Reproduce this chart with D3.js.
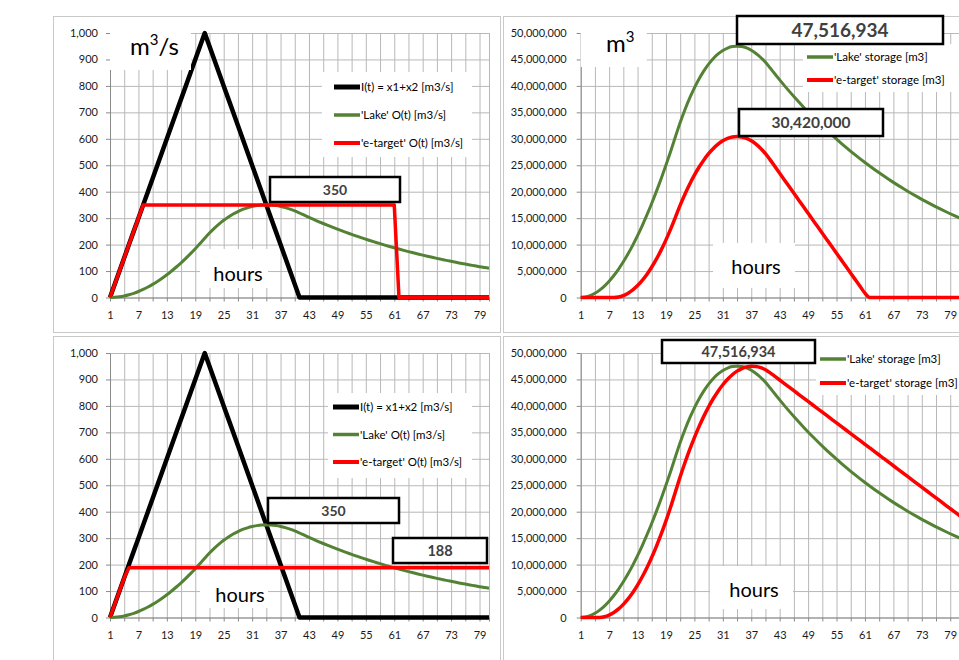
<!DOCTYPE html>
<html>
<head>
<meta charset="utf-8">
<title>Lake vs e-target</title>
<style>
  body { margin: 0; background: #fff; font-family: 'Lato', 'Liberation Sans', sans-serif; }
  svg { display: block; }
</style>
<script src="https://d3js.org/d3.v7.min.js"></script>
</head>
<body>
<svg width="959" height="660"></svg>
<script>
// categories (hours) and tick values
var hours = [1, 2, 3, 4, 5, 6, 7, 8, 9, 10, 11, 12, 13, 14, 15, 16, 17, 18, 19, 20,
  21, 22, 23, 24, 25, 26, 27, 28, 29, 30, 31, 32, 33, 34, 35, 36, 37, 38, 39, 40,
  41, 42, 43, 44, 45, 46, 47, 48, 49, 50, 51, 52, 53, 54, 55, 56, 57, 58, 59, 60,
  61, 62, 63, 64, 65, 66, 67, 68, 69, 70, 71, 72, 73, 74, 75, 76, 77, 78, 79, 80, 81];
var gridHours = [1, 4, 7, 10, 13, 16, 19, 22, 25, 28, 31, 34, 37, 40, 43, 46, 49, 52, 55, 58, 61, 64, 67, 70, 73, 76, 79, 81];
var hourLabels = [1, 7, 13, 19, 25, 31, 37, 43, 49, 55, 61, 67, 73, 79];
var flowTicks = [0, 100, 200, 300, 400, 500, 600, 700, 800, 900, 1000];
var storageTicks = [0, 5000000, 10000000, 15000000, 20000000, 25000000, 30000000, 35000000, 40000000, 45000000, 50000000];

// flows [m3/s]
var inflow = [0, 50, 100, 150, 200, 250, 300, 350, 400, 450, 500, 550, 600, 650, 700, 750, 800, 850, 900, 950,
  1000, 950, 900, 850, 800, 750, 700, 650, 600, 550, 500, 450, 400, 350, 300, 250, 200, 150, 100, 50,
  0, 0, 0, 0, 0, 0, 0, 0, 0, 0, 0, 0, 0, 0, 0, 0, 0, 0, 0, 0,
  0, 0, 0, 0, 0, 0, 0, 0, 0, 0, 0, 0, 0, 0, 0, 0, 0, 0, 0, 0, 0];
var lakeOutflow = [0, 0.7, 2.6, 5.8, 10.2, 15.9, 22.7, 30.6, 39.6, 49.7,
  60.8, 73.0, 86.1, 100.2, 115.3, 131.2, 148.1, 165.8, 184.4, 203.8,
  224.0, 243.6, 261.5, 277.5, 291.8, 304.5, 315.5, 324.9, 332.8, 339.1,
  344.0, 347.4, 349.4, 350.0, 349.4, 347.5, 344.3, 339.8, 334.2, 327.4,
  319.5, 311.1, 303.0, 295.1, 287.3, 279.8, 272.5, 265.4, 258.4, 251.6,
  245.1, 238.6, 232.4, 226.3, 220.4, 214.6, 209.0, 203.5, 198.2, 193.0,
  188.0, 183.1, 178.3, 173.6, 169.0, 164.6, 160.3, 156.1, 152.0, 148.0,
  144.2, 140.4, 136.7, 133.1, 129.7, 126.3, 123.0, 119.7, 116.6, 113.6, 110.6];
var targetOutflow350 = [0, 50, 100, 150, 200, 250, 300, 350,
  350, 350, 350, 350, 350, 350, 350, 350, 350, 350,
  350, 350, 350, 350, 350, 350, 350, 350, 350, 350,
  350, 350, 350, 350, 350, 350, 350, 350, 350, 350,
  350, 350, 350, 350, 350, 350, 350, 350, 350, 350,
  350, 350, 350, 350, 350, 350, 350, 350, 350, 350,
  350, 350, 350,
  0, 0, 0, 0, 0, 0, 0, 0, 0, 0, 0, 0, 0, 0, 0, 0, 0, 0, 0, 0];
var targetOutflow188 = [0, 50, 100, 150,
  188, 188, 188, 188, 188, 188, 188, 188, 188, 188, 188, 188, 188, 188, 188, 188, 188, 188, 188, 188,
  188, 188, 188, 188, 188, 188, 188, 188, 188, 188, 188, 188, 188, 188, 188, 188, 188, 188, 188, 188,
  188, 188, 188, 188, 188, 188, 188, 188, 188, 188, 188, 188, 188, 188, 188, 188, 188, 188, 188, 188,
  188, 188, 188, 188, 188, 188, 188, 188, 188, 188, 188, 188, 188, 188, 188, 188, 188];

// storages [m3]
var lakeStorage = [0, 89600, 354300, 790100, 1391600, 2154600, 3076400, 4151600, 5376200, 6746100,
  8257100, 9908000, 11691900, 13607500, 15650800, 17817500, 20106500, 22512200, 25033300, 27665800,
  30406700, 33074600, 35495200, 37675600, 39621100, 41338500, 42830500, 44109400, 45175100, 46035900,
  46697000, 47161300, 47436900, 47516934, 47438300, 47173500, 46737800, 46136300, 45372000, 44450100,
  43374900, 42239900, 41133500, 40056900, 39008800, 37986500, 36994100, 36024700, 35081200, 34163400,
  33268700, 32397100, 31550000, 30724500, 29919400, 29136100, 28373100, 27630500, 26906800, 26203600,
  25518000, 24852800, 24201100, 23567100, 22949400, 22349300, 21762800, 21195300, 20640000, 20098400,
  19571600, 19059800, 18560200, 18074100, 17601700, 17141500, 16692100, 16256300, 15830000, 15417200, 15012700];
var targetStorage350 = [0, 0, 0, 0, 0, 0, 0, 0,
  90000, 360000, 810000, 1440000, 2250000, 3240000, 4410000, 5760000, 7290000, 9000000, 10890000, 12960000, 15210000,
  17460000, 19530000, 21420000, 23130000, 24660000, 26010000, 27180000, 28170000, 28980000, 29610000,
  30060000, 30330000, 30420000, 30330000, 30060000, 29610000, 28980000, 28170000, 27180000, 26010000,
  24750000, 23490000, 22230000, 20970000, 19710000, 18450000, 17190000, 15930000, 14670000, 13410000,
  12150000, 10890000, 9630000, 8370000, 7110000, 5850000, 4590000, 3330000, 2070000, 810000,
  0, 0, 0, 0, 0, 0, 0, 0, 0, 0, 0, 0, 0, 0, 0, 0, 0, 0, 0, 0];
var targetStorage188 = [0, 0, 0, 0,
  5517, 140086, 454654, 949222, 1623790, 2478358, 3512926, 4727494, 6122062, 7696630, 9451198,
  11385766, 13500334, 15794902, 18269470, 20924038, 23758606,
  26593164, 29247732, 31722300, 34016868, 36131436, 38066004, 39820572, 41395140, 42789708, 44004276,
  45038844, 45893412, 46567980, 47062548, 47377116, 47511684, 47466252, 47240820, 46835388, 46249956,
  45574524, 44899092, 44223660, 43548228, 42872796, 42197364, 41521932, 40846500, 40171068, 39495636,
  38820204, 38144772, 37469340, 36793908, 36118476, 35443044, 34767612, 34092180, 33416748, 32741316,
  32065884, 31390452, 30715020, 30039588, 29364156, 28688724, 28013292, 27337860, 26662428, 25986996,
  25311564, 24636132, 23960700, 23285268, 22609836, 21934404, 21258972, 20583540, 19908108, 19232676];

var flowNames = ['I(t) = x1+x2 [m3/s]', "'Lake' O(t) [m3/s]", "'e-target' O(t) [m3/s]"];
var storageNames = ["'Lake' storage [m3]", "'e-target' storage [m3]"];

var GREEN = '#548235', RED = '#ff0000', BLACK = '#000000';
var svg = d3.select('svg');
var fmt = d3.format(',');
var plotW = 379, plotH = 264.5;

function drawPanel(p) {
	var x = d3.scaleLinear().domain([1, 81]).range([p.left, p.left + plotW]);
	var y = d3.scaleLinear().domain([0, p.yMax]).range([p.top + plotH, p.top]);
	var g = svg.append('g');

	g.append('rect')
		.attr('x', p.frame[0] + 0.5).attr('y', p.frame[1] + 0.5)
		.attr('width', p.frame[2]).attr('height', p.frame[3])
		.attr('fill', '#fff').attr('stroke', '#c9c9c9');

	// gridlines
	var vg = g.append('g').attr('transform', 'translate(0,' + (p.top + plotH) + ')')
		.call(d3.axisBottom(x).tickValues(gridHours).tickSize(-plotH).tickFormat(''));
	vg.select('.domain').remove();
	vg.selectAll('line').attr('stroke', '#b8b8b8');
	var hg = g.append('g').attr('transform', 'translate(' + p.left + ',0)')
		.call(d3.axisLeft(y).tickValues(p.yTicks).tickSize(-plotW).tickFormat(''));
	hg.select('.domain').remove();
	hg.selectAll('line').attr('stroke', '#b8b8b8');

	// axes
	var xa = g.append('g').attr('transform', 'translate(0,' + (p.top + plotH) + ')')
		.call(d3.axisBottom(x).tickValues(gridHours).tickSize(4).tickSizeOuter(0).tickPadding(10)
			.tickFormat((d) => hourLabels.indexOf(d) >= 0 ? d : ''));
	var ya = g.append('g').attr('transform', 'translate(' + p.left + ',0)')
		.call(d3.axisLeft(y).tickValues(p.yTicks).tickSize(4).tickSizeOuter(0).tickPadding(p.yPad)
			.tickFormat(fmt));
	[xa, ya].forEach((a) => {
		a.select('.domain').attr('stroke', '#8a8a8a');
		a.selectAll('line').attr('stroke', '#8a8a8a');
		a.selectAll('text').attr('font-size', 11).attr('fill', '#1a1a1a')
			.attr('font-family', "'Lato', 'Liberation Sans', sans-serif");
	});

	// series
	p.series.forEach((s) => {
		g.append('path')
			.datum(s.values)
			.attr('d', d3.line().x((d, i) => x(hours[i])).y((d) => y(d)).curve(s.curve))
			.attr('fill', 'none')
			.attr('stroke', s.color)
			.attr('stroke-width', s.width)
			.attr('stroke-linejoin', 'round');
	});

	// white boxes behind unit label / "hours" / legend
	p.blanks.forEach((b) => {
		g.append('rect').attr('x', b[0]).attr('y', b[1]).attr('width', b[2]).attr('height', b[3]).attr('fill', '#fff');
	});

	// legend
	p.series.forEach((s, i) => {
		var ly = p.legend.y + i * p.legend.gap;
		g.append('line')
			.attr('x1', p.legend.x).attr('x2', p.legend.x + 26)
			.attr('y1', ly).attr('y2', ly)
			.attr('stroke', s.color).attr('stroke-width', s.width + 0.5);
		g.append('text')
			.attr('x', p.legend.x + 27).attr('y', ly + 4)
			.attr('font-size', 11.5).attr('fill', '#000')
			.text(s.name);
	});

	// "hours"
	g.append('text')
		.attr('x', p.hours[0]).attr('y', p.hours[1])
		.attr('text-anchor', 'middle').attr('font-size', 20).attr('fill', '#000')
		.text('hours');

	// unit label
	if (p.unit) {
		var t = g.append('text').attr('x', p.unit.x).attr('y', p.unit.y).attr('font-size', 24).attr('fill', '#000');
		t.append('tspan').text('m');
		t.append('tspan').attr('font-size', 15).attr('dy', -10).text('3');
		if (p.unit.tail) t.append('tspan').attr('dy', 10).text(p.unit.tail);
	}

	// annotation boxes
	p.notes.forEach((n) => {
		g.append('rect')
			.attr('x', n.x).attr('y', n.y).attr('width', n.w).attr('height', n.h)
			.attr('fill', '#fff').attr('stroke', '#000').attr('stroke-width', 2.5);
		g.append('text')
			.attr('x', n.x + n.w / 2).attr('y', n.y + n.h / 2)
			.attr('dy', '0.36em')
			.attr('text-anchor', 'middle')
			.attr('font-size', n.size).attr('font-weight', 'bold').attr('fill', '#404040')
			.text(n.text);
	});
}

drawPanel({
	frame: [53, 16, 447, 316], left: 110, top: 33, yMax: 1000, yTicks: flowTicks, yPad: 8,
	series: [
		{name: flowNames[0], values: inflow, color: BLACK, width: 4.5, curve: d3.curveLinear},
		{name: flowNames[1], values: lakeOutflow, color: GREEN, width: 3, curve: d3.curveMonotoneX},
		{name: flowNames[2], values: targetOutflow350, color: RED, width: 3.5, curve: d3.curveLinear}
	],
	blanks: [[110, 33, 81, 37], [200, 249, 68, 39], [322, 72, 150, 85]],
	legend: {x: 334, y: 87, gap: 28},
	hours: [238, 281],
	unit: {x: 130, y: 55, tail: '/s'},
	notes: [{x: 270, y: 177, w: 130, h: 25, text: fmt(350), size: 14}]
});

drawPanel({
	frame: [503, 16, 470, 316], left: 580.7, top: 33, yMax: 50000000, yTicks: storageTicks, yPad: 10,
	series: [
		{name: storageNames[0], values: lakeStorage, color: GREEN, width: 3, curve: d3.curveMonotoneX},
		{name: storageNames[1], values: targetStorage350, color: RED, width: 3.5, curve: d3.curveMonotoneX}
	],
	blanks: [[580.7, 33, 66, 34], [713, 243, 82, 45], [803, 44, 160, 48]],
	legend: {x: 807, y: 57, gap: 23},
	hours: [756, 274],
	unit: {x: 606, y: 52},
	notes: [
		{x: 737, y: 16, w: 206, h: 28, text: fmt(47516934), size: 19},
		{x: 739, y: 109, w: 144, h: 27, text: fmt(30420000), size: 15.5}
	]
});

drawPanel({
	frame: [53, 336, 447, 330], left: 110, top: 353, yMax: 1000, yTicks: flowTicks, yPad: 8,
	series: [
		{name: flowNames[0], values: inflow, color: BLACK, width: 4.5, curve: d3.curveLinear},
		{name: flowNames[1], values: lakeOutflow, color: GREEN, width: 3, curve: d3.curveMonotoneX},
		{name: flowNames[2], values: targetOutflow188, color: RED, width: 3.5, curve: d3.curveLinear}
	],
	blanks: [[200, 570, 68, 38], [328, 393, 144, 85]],
	legend: {x: 333, y: 407, gap: 27.5},
	hours: [240, 602],
	unit: null,
	notes: [
		{x: 268, y: 498, w: 131, h: 25, text: fmt(350), size: 14},
		{x: 393, y: 538, w: 94, h: 25, text: fmt(188), size: 14.5}
	]
});

drawPanel({
	frame: [503, 336, 470, 330], left: 580.7, top: 353, yMax: 50000000, yTicks: storageTicks, yPad: 10,
	series: [
		{name: storageNames[0], values: lakeStorage, color: GREEN, width: 3, curve: d3.curveMonotoneX},
		{name: storageNames[1], values: targetStorage188, color: RED, width: 3.5, curve: d3.curveMonotoneX}
	],
	blanks: [[710, 566, 83, 43], [816, 343, 150, 52]],
	legend: {x: 820, y: 359, gap: 24},
	hours: [754, 597],
	unit: null,
	notes: [{x: 662, y: 340, w: 153, h: 23, text: fmt(47516934), size: 14.5}]
});
</script>
</body>
</html>
